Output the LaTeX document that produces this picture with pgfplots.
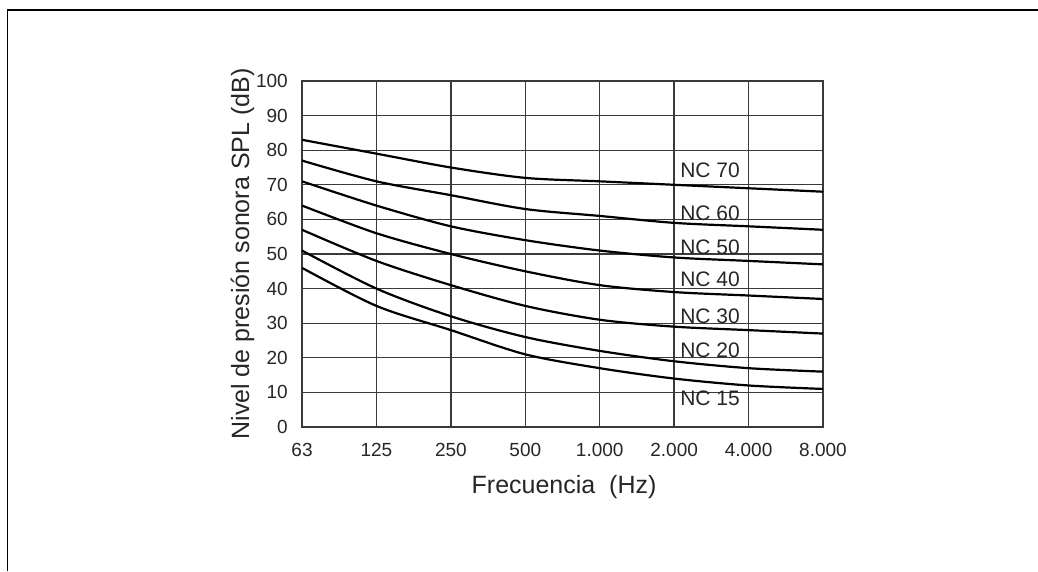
\documentclass[border=0pt]{standalone}
\usepackage{fontspec}
\setmainfont{Liberation Sans}
\usepackage{pgfplots}
\pgfplotsset{compat=1.18}
\definecolor{gridgray}{HTML}{3A3A3A}
\definecolor{txt}{HTML}{262626}

\begin{document}
\begin{tikzpicture}
  % fixed page size (reference pixels = pt)
  \path[use as bounding box] (0pt,0pt) rectangle (1038pt,571pt);
  % frame round the figure (top and left side only visible)
  \draw[line width=1.8pt, black] (7.5pt,0pt) -- (7.5pt,561pt) -- (1038pt,561pt);

  \begin{axis}[
    at={(302pt,144pt)},
    anchor=south west,
    scale only axis,
    width=521pt,
    height=346pt,
    xmin=0, xmax=7,
    ymin=0, ymax=100,
    xtick={0,...,7},
    xticklabels={63,125,250,500,1.000,2.000,4.000,8.000},
    ytick={0,10,...,100},
    grid=major,
    major tick length=0pt,
    axis line style={gridgray, line width=1.3pt},
    major grid style={gridgray, line width=1.3pt},
    tick label style={font=\fontsize{19}{22}\selectfont, text=txt, inner sep=0pt},
    xticklabel style={anchor=north, yshift=-16pt},
    yticklabel style={anchor=east, xshift=-14pt},
    /pgf/number format/assume math mode=true,
    xlabel={Frecuencia\ \ (Hz)},
    ylabel={Nivel de presión sonora SPL (dB)},
    label style={font=\fontsize{25}{28}\selectfont, text=txt},
    xlabel style={at={(axis description cs:0.503,-0.1936)}, anchor=base},
    ylabel style={at={(axis description cs:-0.1017,0.5)}, anchor=base, rotate=0},
    clip=false
  ]

    % NC 15
    \addplot[black, line width=2.2pt, smooth] coordinates {
      (0,46) (1,35) (2,28) (3,21) (4,17) (5,14) (6,12) (7,11)};
    % NC 20
    \addplot[black, line width=2.2pt, smooth] coordinates {
      (0,51) (1,40) (2,32) (3,26) (4,22) (5,19) (6,17) (7,16)};
    % NC 30
    \addplot[black, line width=2.2pt, smooth] coordinates {
      (0,57) (1,48) (2,41) (3,35) (4,31) (5,29) (6,28) (7,27)};
    % NC 40
    \addplot[black, line width=2.2pt, smooth] coordinates {
      (0,64) (1,56) (2,50) (3,45) (4,41) (5,39) (6,38) (7,37)};
    % NC 50
    \addplot[black, line width=2.2pt, smooth] coordinates {
      (0,71) (1,64) (2,58) (3,54) (4,51) (5,49) (6,48) (7,47)};
    % NC 60
    \addplot[black, line width=2.2pt, smooth] coordinates {
      (0,77) (1,71) (2,67) (3,63) (4,61) (5,59) (6,58) (7,57)};
    % NC 70
    \addplot[black, line width=2.2pt, smooth] coordinates {
      (0,83) (1,79) (2,75) (3,72) (4,71) (5,70) (6,69) (7,68)};

    % curve names
    \begin{scope}[every node/.style={anchor=base west, inner sep=0pt,
        text=txt, font=\fontsize{21}{24}\selectfont}]
      \node at (axis cs:5.08,72.0) {NC 70};
      \node at (axis cs:5.08,59.8) {NC 60};
      \node at (axis cs:5.08,50.0) {NC 50};
      \node at (axis cs:5.08,40.5) {NC 40};
      \node at (axis cs:5.08,30.0) {NC 30};
      \node at (axis cs:5.08,20.0) {NC 20};
      \node at (axis cs:5.08,6.1) {NC 15};
    \end{scope}

  \end{axis}
\end{tikzpicture}
\end{document}
